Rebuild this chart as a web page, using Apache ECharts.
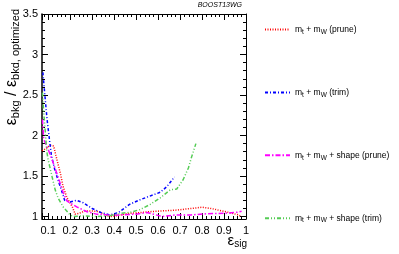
<!DOCTYPE html>
<html><head><meta charset="utf-8">
<script src="https://cdn.jsdelivr.net/npm/echarts@6/dist/echarts.min.js"></script>
<style>html,body{margin:0;padding:0;background:#fff}#c{width:399px;height:254px}</style>
</head><body><div id="c"></div>
<script>
// data: [eps_sig, ratio]
var prune = [[0.072,1.81],[0.09,1.84],[0.11,1.88],[0.125,1.87],[0.14,1.70],[0.155,1.54],[0.168,1.37],[0.186,1.23],[0.21,1.12],[0.223,1.03],[0.24,1.04],[0.27,1.07],[0.3,1.07],[0.33,1.06],[0.36,1.02],[0.39,1.0],[0.43,1.02],[0.47,1.04],[0.52,1.05],[0.56,1.06],[0.62,1.07],[0.685,1.08],[0.75,1.1],[0.8,1.115],[0.84,1.1],[0.9,1.065],[0.96,1.025],[0.98,1.0]];
var trim = [[0.076,2.78],[0.085,2.5],[0.095,2.2],[0.105,1.97],[0.115,1.75],[0.13,1.58],[0.145,1.45],[0.16,1.33],[0.175,1.2],[0.2,1.18],[0.23,1.2],[0.26,1.17],[0.3,1.1],[0.34,1.05],[0.38,1.02],[0.42,1.05],[0.47,1.15],[0.52,1.21],[0.56,1.25],[0.61,1.3],[0.64,1.37],[0.675,1.49]];
var shapePrune = [[0.074,2.2],[0.08,1.95],[0.1,1.83],[0.118,1.7],[0.145,1.49],[0.168,1.3],[0.186,1.19],[0.23,1.12],[0.277,1.06],[0.32,1.03],[0.37,1.02],[0.42,1.02],[0.5,1.03],[0.55,1.05],[0.62,1.0],[0.68,1.02],[0.75,1.02],[0.82,1.035],[0.9,1.04],[0.96,1.053],[0.98,1.065]];
var shapeTrim = [[0.074,2.53],[0.08,2.28],[0.088,2.01],[0.094,1.8],[0.1,1.7],[0.118,1.49],[0.132,1.33],[0.145,1.23],[0.168,1.12],[0.2,1.02],[0.214,1.0],[0.26,1.01],[0.32,1.0],[0.38,1.01],[0.427,1.04],[0.47,1.05],[0.518,1.086],[0.564,1.15],[0.61,1.23],[0.655,1.33],[0.685,1.34],[0.714,1.455],[0.738,1.6],[0.753,1.74],[0.772,1.9]];
var seriesNames = ['prune','trim','shape prune','shape trim'];
var legendLabels = ['{n|m}{s|t}{n| + m}{s|W}{n| (prune)}','{n|m}{s|t}{n| + m}{s|W}{n| (trim)}','{n|m}{s|t}{n| + m}{s|W}{n| + shape (prune)}','{n|m}{s|t}{n| + m}{s|W}{n| + shape (trim)}'];

var chart = echarts.init(document.getElementById('c'), null, {renderer:'canvas'});
var FONT = 'Liberation Sans';
function lab(v, step){ var r = v/step; return Math.abs(r-Math.round(r))<1e-6 ? String(+v.toFixed(2)) : ''; }
var axLine = {show:true, lineStyle:{color:'#000', width:1}};
chart.setOption({
  animation:false,
  grid:{left:42, right:153, top:14, bottom:35},
  legend:{
    orient:'vertical', left:264, top:25, padding:0, itemWidth:25, itemHeight:11, itemGap:52.4,
    itemStyle:{opacity:0},
    data: seriesNames,
    formatter: function(n){ return legendLabels[seriesNames.indexOf(n)]; },
    textStyle:{fontFamily:FONT, color:'#000', rich:{n:{fontSize:8.5, fontFamily:FONT, color:'#000'}, s:{fontSize:6.5, fontFamily:FONT, color:'#000', padding:[5,0,0,0]}}}
  },
  xAxis:[
    {type:'value', min:0.072, max:1, splitNumber:9, position:'bottom',
     axisLine:axLine, splitLine:{show:false},
     axisTick:{inside:true, length:6, lineStyle:{color:'#000'}},
     minorTick:{show:true, splitNumber:5, length:3, lineStyle:{color:'#000'}},
     axisLabel:{fontFamily:FONT, fontSize:11, color:'#000', margin:6, formatter:function(v){return lab(v,0.1);}}},
    {type:'value', min:0.072, max:1, splitNumber:9, position:'top',
     axisLine:axLine, splitLine:{show:false},
     axisTick:{inside:true, length:6, lineStyle:{color:'#000'}},
     minorTick:{show:true, splitNumber:5, length:3, lineStyle:{color:'#000'}},
     axisLabel:{show:false}}
  ],
  yAxis:[
    {type:'value', min:0.97, max:3.5, splitNumber:5, position:'left',
     axisLine:{show:true, lineStyle:{color:'#000', width:1.5}}, splitLine:{show:false},
     axisTick:{inside:true, length:6, lineStyle:{color:'#000'}},
     minorTick:{show:true, splitNumber:5, length:3, lineStyle:{color:'#000'}},
     axisLabel:{fontFamily:FONT, fontSize:11, color:'#000', margin:4, formatter:function(v){return lab(v,0.5);}}},
    {type:'value', min:0.97, max:3.5, splitNumber:5, position:'right',
     axisLine:axLine, splitLine:{show:false},
     axisTick:{inside:true, length:6, lineStyle:{color:'#000'}},
     minorTick:{show:true, splitNumber:5, length:3, lineStyle:{color:'#000'}},
     axisLabel:{show:false}}
  ],
  series:[
    {name:seriesNames[0], type:'line', data:prune, symbol:'none', color:'#ff0000', lineStyle:{width:1.5, type:[1,1.5], color:'#ff0000'}},
    {name:seriesNames[1], type:'line', data:trim, symbol:'none', color:'#0000ff', lineStyle:{width:1.5, type:[3,2,1,2], color:'#0000ff'}},
    {name:seriesNames[2], type:'line', data:shapePrune, symbol:'none', color:'#ff00ff', lineStyle:{width:1.5, type:[5,2,1.5,2], color:'#ff00ff'}},
    {name:seriesNames[3], type:'line', data:shapeTrim, symbol:'none', color:'#55cc55', lineStyle:{width:1.5, type:[4,2,1,2,1,2], color:'#55cc55'}}
  ],
  graphic:[
    {type:'text', x:12, y:9, rotation:Math.PI/2, style:{
      text:'{e|ε}{s|bkg}{e| / ε}{s|bkd, optimized}', align:'right', verticalAlign:'middle',
      rich:{e:{fontSize:16, fontFamily:FONT, fill:'#000'}, s:{fontSize:11, fontFamily:FONT, fill:'#000', padding:[7,0,0,0]}}}},
    {type:'text', x:247, y:241, style:{
      text:'{e|ε}{s|sig}', align:'right', verticalAlign:'middle',
      rich:{e:{fontSize:15, fontFamily:FONT, fill:'#000'}, s:{fontSize:10, fontFamily:FONT, fill:'#000', padding:[7,0,0,0]}}}},
    {type:'text', x:242, y:5, style:{text:'BOOST13WG', align:'right', verticalAlign:'middle', fontSize:7, fontStyle:'italic', fontFamily:FONT, fill:'#000'}}
  ]
});
</script></body></html>
